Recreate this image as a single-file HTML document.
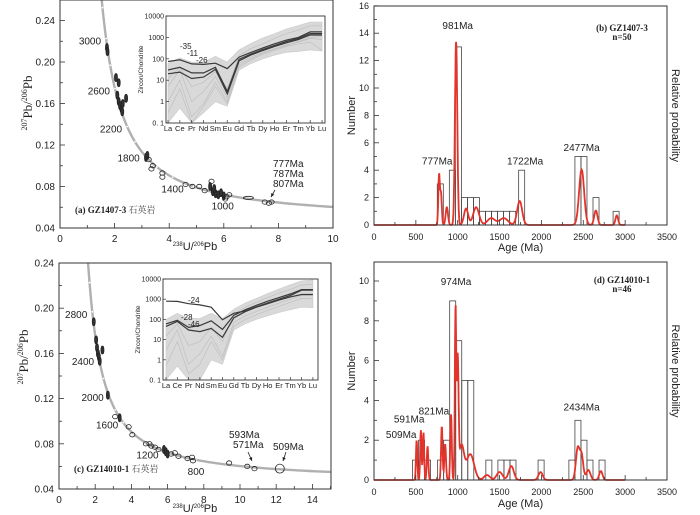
<!DOCTYPE html>
<html><head><meta charset="utf-8"><style>
html,body{margin:0;padding:0;background:#fff;}
svg{display:block;font-family:"Liberation Sans",Arial,sans-serif;}
.serif{font-family:"Liberation Serif","Noto Serif CJK SC",serif;}
</style></head><body>
<svg id="fig" width="700" height="515" viewBox="0 0 700 515" xmlns="http://www.w3.org/2000/svg">
<defs>
<clipPath id="clipA"><rect x="60" y="0" width="273" height="228"/></clipPath>
<clipPath id="clipC"><rect x="59" y="263" width="272" height="226"/></clipPath>
<clipPath id="clipIA"><rect x="166" y="16" width="159" height="107"/></clipPath>
<clipPath id="clipIC"><rect x="163" y="279" width="155" height="101"/></clipPath>
</defs>
</svg>
<script>
// ---------- DATA ----------
const concordiaAgesA=[3000,2600,2200,1800,1400,1000];
const concordiaAgesC=[2800,2400,2000,1600,1200,800];
const pointsA_x=[1.72,1.74,2.05,2.15,2.10,2.15,2.20,2.25,2.30,2.42,2.28,3.15,3.20,3.25,3.40,3.35,3.75,3.75,4.60,4.85,5.10,5.30,5.55,5.50,5.60,5.70,5.80,5.65,5.90,6.00,6.10,6.20,6.05,6.90,7.50,7.65,7.75];
const pointsA_y=[0.214,0.210,0.185,0.180,0.168,0.162,0.158,0.155,0.160,0.165,0.152,0.108,0.110,0.106,0.100,0.097,0.093,0.089,0.082,0.080,0.080,0.076,0.085,0.080,0.075,0.073,0.072,0.078,0.074,0.071,0.070,0.072,0.068,0.069,0.065,0.064,0.065];
const pointsA_filled=[1,1,1,1,1,1,1,1,1,1,1,1,1,0,0,0,0,0,0,0,0,0,0,1,1,1,1,1,1,1,0,0,0,0,0,0,0];
const pointsC_x=[1.92,2.05,2.10,2.15,2.20,2.25,2.40,2.70,3.35,3.10,3.85,4.05,4.80,5.00,5.10,5.30,5.50,5.80,5.90,6.00,6.20,6.40,6.60,7.10,7.35,7.40,9.40,10.40,10.80,12.20];
const pointsC_y=[0.188,0.172,0.165,0.160,0.157,0.153,0.163,0.123,0.103,0.104,0.095,0.088,0.080,0.080,0.078,0.077,0.075,0.075,0.073,0.071,0.071,0.072,0.069,0.067,0.068,0.065,0.063,0.060,0.058,0.058];
const pointsC_filled=[1,1,1,1,1,1,1,1,1,0,0,0,0,0,0,0,0,1,1,1,0,0,0,0,0,0,0,0,0,0];

const reeElements=["La","Ce","Pr","Nd","Sm","Eu","Gd","Tb","Dy","Ho","Er","Tm","Yb","Lu"];
const reeA_high=[60,110,70,70,130,70,260,520,950,1500,2500,3600,5200,5200];
const reeA_low=[0.1,0.5,0.1,0.3,1,0.6,30,60,100,150,200,220,260,230];
const reeA_grey1=[5,30,1,3,15,1.5,60,120,200,300,450,600,900,800];
const reeA_grey2=[1,10,0.2,0.8,8,1,50,100,180,280,420,650,1000,1100];
const reeA_grey3=[12,40,5,8,25,4,140,300,500,900,1500,2200,3500,3500];
const reeA_grey4=[0.3,4,0.1,0.6,5,0.8,40,90,160,250,380,500,600,250];
const reeA_dark1=[75,90,58,55,62,35,120,200,320,500,750,1000,1800,1800];
const reeA_dark2=[30,40,22,22,40,3,95,165,270,420,640,900,1500,1500];
const reeA_dark3=[20,24,12,14,32,2.3,80,150,245,380,560,800,1300,1300];
const reeC_high=[100,200,110,110,200,110,320,650,1100,1900,3200,5200,8000,9000];
const reeC_low=[0.1,0.5,0.1,0.1,1,0.6,30,60,100,150,220,300,400,380];
const reeC_grey1=[3,30,0.6,2,15,1.5,70,150,250,400,650,1000,1500,1500];
const reeC_grey2=[0.5,8,0.2,0.6,8,1,45,100,170,280,450,700,1100,1100];
const reeC_grey3=[15,60,5,8,40,8,180,400,700,1200,2000,3000,5000,5500];
const reeC_dark1=[800,780,600,520,400,95,200,260,420,650,1000,1500,2800,2800];
const reeC_dark2=[60,90,40,50,85,32,160,300,500,800,1200,1800,3000,3000];
const reeC_dark3=[45,80,30,25,36,13,120,240,400,600,900,1300,1700,1700];

const histB_starts=[756,900,972,1044,1116,1188,1260,1332,1404,1476,1548,1620,1728,2400,2472,2616,2856];
const histB_counts=[3,4,13,2,2,2,1,1,1,1,1,1,4,5,5,2,1];
const peaksB_age=[777,800,870,981,1100,1220,1400,1550,1740,2480,2650,2900];
const peaksB_height=[3.6,2.3,1.3,13.4,1.2,1.3,0.5,0.5,1.75,4.05,1.05,0.7];
const peaksB_sigma=[9,10,14,14,25,35,45,50,30,30,20,16];
const labelsB_text=["981Ma","777Ma","1722Ma","2477Ma"];
const labelsB_age=[1000,755,1805,2480];
const labelsB_val=[14.3,4.4,4.4,5.4];

const histD_starts=[460,532,604,760,832,904,976,1048,1120,1336,1480,1552,1624,1960,2328,2400,2472,2544,2688];
const histD_counts=[1,2,1,1,2,9,7,5,5,1,1,1,1,1,1,3,2,1,1];
const peaksD_age=[509,560,591,640,810,850,920,974,1000,1045,1150,1350,1500,1640,1990,2434,2480,2560,2710];
const peaksD_height=[2.0,2.5,2.4,1.7,2.7,1.8,3.3,8.6,5.8,1.7,1.3,0.25,0.4,0.7,0.4,1.6,1.2,0.5,0.45];
const peaksD_sigma=[8,8,8,9,9,10,9,8,10,30,45,35,35,30,25,22,20,25,20];
const labelsD_text=["974Ma","821Ma","591Ma","509Ma","2434Ma"];
const labelsD_age=[980,715,420,325,2480];
const labelsD_val=[9.8,3.3,2.9,2.1,3.5];

// ---------- HELPERS ----------
const NS="http://www.w3.org/2000/svg";
const svg=document.getElementById('fig');
function mk(tag,name,attrs,parent){
  const el=document.createElementNS(NS,tag);
  
  
  for(const k in attrs) el.setAttribute(k,attrs[k]);
  (parent||svg).appendChild(el); return el;
}
function txt(name,s,x,y,size,anchor,extra,parent){
  const a=Object.assign({x:x,y:y,'font-size':size,'text-anchor':anchor||'start',fill:'#222'},extra||{});
  const t=mk('text',name,a,parent); t.textContent=s; return t;
}
function lin(d0,d1,r0,r1){return v=>r0+(v-d0)/(d1-d0)*(r1-r0);}
const L238=1.55125e-10, L235=9.8485e-10;
function conc(tMa){const t=tMa*1e6;const a=Math.exp(L238*t)-1,b=Math.exp(L235*t)-1;return [1/a,b/a/137.88];}

// ---------- CONCORDIA PANEL ----------
function concPanel(p){
  const g=mk('g',p.id+'-panel',{});
  const X=lin(0,p.xmax,p.l,p.l+p.xmax*p.xpx), Y=v=>p.b-(v-0.04)/0.04*p.ypx;
  for(let v=0;v<=p.xmax+1e-9;v+=p.xminor){
    const major=Math.abs(v/p.xmajor-Math.round(v/p.xmajor))<1e-6;
    mk('line','x-tick',{x1:X(v),x2:X(v),y1:p.b,y2:p.b-(major?5:3),stroke:'#333','stroke-width':0.8},g);
    if(major) txt('x-tick-label',String(Math.round(v)),X(v),p.xlabY,10,'middle',{},g);
  }
  for(let v=0.04;v<=0.24+1e-9;v+=0.02){
    const major=Math.round(v*100)%4===0;
    mk('line','y-tick',{x1:p.l,x2:p.l+(major?5:3),y1:Y(v),y2:Y(v),stroke:'#333','stroke-width':0.8},g);
    if(major) txt('y-tick-label',v.toFixed(2),p.l-5,Y(v)+3.5,10,'end',{},g);
  }
  let d='';for(let t=50;t<=4200;t+=10){const c=conc(t);d+=(d?'L':'M')+X(c[0]).toFixed(1)+','+Y(c[1]).toFixed(1);}
  mk('path','concordia-curve',{d:d,fill:'none',stroke:'#b0b0b0','stroke-width':2.4,'clip-path':'url(#'+p.clip+')'},g);
  for(let t=400;t<=3400;t+=200){const c=conc(t);if(X(c[0])>p.r)continue;
    mk('circle','concordia-age-marker',{cx:X(c[0]),cy:Y(c[1]),r:0.9,fill:'#fff','clip-path':'url(#'+p.clip+')'},g);}
  p.ages.forEach(a=>{const c=conc(a);const x=X(c[0]),y=Y(c[1]);
    if(a>=1600) txt('concordia-age-label',String(a),x-5,y+6,10,'end',{},g);
    else txt('concordia-age-label',String(a),x,y+15,10,'middle',{},g);});
  p.px.forEach((xv,i)=>{
    const f=p.pf[i];
    const wide=(!f && xv>6.5 && xv<7.2 && p.id==='a');
    const big=(p.id==='c' && xv>12);
    mk('ellipse','data-ellipse',{cx:X(xv),cy:Y(p.py[i]),rx:big?4.5:(wide?5:(f?1.5:2.6)),ry:big?4.5:(wide?1.6:(f?4:2.2)),
      fill:f?'#333':'none',stroke:'#222','stroke-width':0.8,'clip-path':'url(#'+p.clip+')'},g);
  });
  mk('rect','plot-frame',{x:p.l,y:p.t,width:p.r-p.l,height:p.b-p.t,fill:'none',stroke:'#333','stroke-width':1},g);
  const yt=txt('y-axis-title','',p.ytx,p.yty,13,'middle',{class:'serif',transform:'rotate(-90 '+p.ytx+' '+p.yty+')'},g);
  yt.innerHTML='<tspan font-size="8" dy="-5">207</tspan><tspan dy="5">Pb/</tspan><tspan font-size="8" dy="-5">206</tspan><tspan dy="5">Pb</tspan>';
  const xt=txt('x-axis-title','',195,p.xty,10,'middle',{},g);
  xt.innerHTML='<tspan font-size="6" dy="-4">238</tspan><tspan dy="4" font-size="11">U/</tspan><tspan font-size="6" dy="-4">206</tspan><tspan dy="4" font-size="11">Pb</tspan>';
  const st=txt('sample-label','',p.l+15,p.sly,9,'start',{class:'serif','font-weight':'bold'},g);
  st.innerHTML=p.sample+' <tspan font-weight="normal" font-size="9" fill="#444">石英岩</tspan>';
  return {g,X,Y};
}

// ---------- REE INSET ----------
function inset(p){
  const g=mk('g',p.id+'-ree-inset',{});
  mk('rect','inset-background',{x:p.l,y:p.t,width:p.r-p.l,height:p.b-p.t,fill:'#fff'},g);
  const X=i=>p.x0+i*p.step, Y=v=>p.t+(4-Math.log10(v))*p.dec;
  let d='';p.high.forEach((v,i)=>{d+=(i?'L':'M')+X(i)+','+Y(v);});
  for(let i=p.low.length-1;i>=0;i--)d+='L'+X(i)+','+Y(p.low[i]);
  mk('path','ree-envelope',{d:d+'Z',fill:'#d9d9d9',stroke:'#cacaca','stroke-width':0.6,'clip-path':'url(#'+p.clip+')'},g);
  const line=(arr,name,col,w)=>{let s='';arr.forEach((v,i)=>{s+=(i?'L':'M')+X(i).toFixed(1)+','+Y(v).toFixed(1);});
    mk('path',name,{d:s,fill:'none',stroke:col,'stroke-width':w,'clip-path':'url(#'+p.clip+')'},g);};
  p.greys.forEach(a=>line(a,'ree-grey-line','#c0c0c0',0.7));
  p.darks.forEach(a=>line(a,'ree-highlight-line','#3a3a3a',1.2));
  mk('rect','inset-frame',{x:p.l,y:p.t,width:p.r-p.l,height:p.b-p.t,fill:'none',stroke:'#333','stroke-width':0.9},g);
  [10000,1000,100,10,1,0.1].forEach(v=>{
    mk('line','inset-y-tick',{x1:p.l,x2:p.l+3,y1:Y(v),y2:Y(v),stroke:'#333','stroke-width':0.7},g);
    txt('inset-y-tick-label',v===0.1?'0. 1':String(v),p.l-2,Y(v)+2.5,7,'end',{},g);
  });
  reeElements.forEach((e,i)=>{
    mk('line','inset-x-tick',{x1:X(i),x2:X(i),y1:p.b,y2:p.b-3,stroke:'#333','stroke-width':0.7},g);
    txt('inset-x-tick-label',e,X(i),p.b+8,7.5,'middle',{},g);});
  const cx=p.l-23,cy=(p.t+p.b)/2;
  txt('inset-y-axis-title','Zircon/Chondrite',cx,cy,6.5,'middle',{transform:'rotate(-90 '+cx+' '+cy+')'},g);
  p.notes.forEach(n=>txt('ree-line-label',n[0],n[1],n[2],8,'start',{},g));
}

// ---------- HISTOGRAM PANEL ----------
function histPanel(p){
  const g=mk('g',p.id+'-panel',{});
  const X=lin(0,3500,p.l,p.r), Y=v=>p.b-v*p.ypx;
  p.starts.forEach((s,i)=>mk('rect','histogram-bar',{x:X(s),y:Y(p.counts[i]),width:X(s+72)-X(s),height:p.b-Y(p.counts[i]),fill:'none',stroke:'#444','stroke-width':0.8},g));
  let d='';for(let a=0;a<=3000;a+=4){let v=0;p.pa.forEach((c,k)=>{v+=p.ph[k]*Math.exp(-0.5*Math.pow((a-c)/p.ps[k],2));});
    d+=(d?'L':'M')+X(a).toFixed(1)+','+Y(v).toFixed(1);}
  mk('path','probability-curve',{d:d,fill:'none',stroke:'#e3342b','stroke-width':1.8},g);
  for(let v=0;v<=3500;v+=250){const major=v%500===0;
    mk('line','x-tick',{x1:X(v),x2:X(v),y1:p.b,y2:p.b-(major?5:3),stroke:'#333','stroke-width':0.8},g);
    if(major) txt('x-tick-label',String(v),X(v),p.xlabY,9,'middle',{},g);}
  for(let v=0;v<=p.ymax;v+=1){const major=v%2===0;
    mk('line','y-tick',{x1:p.l,x2:p.l+(major?5:3),y1:Y(v),y2:Y(v),stroke:'#333','stroke-width':0.8},g);
    if(major) txt('y-tick-label',String(v),p.l-5,Y(v)+3,9,'end',{},g);}
  mk('rect','plot-frame',{x:p.l,y:p.t,width:p.r-p.l,height:p.b-p.t,fill:'none',stroke:'#333','stroke-width':1},g);
  p.lt.forEach((t,i)=>txt('peak-age-label',t,X(p.la[i]),Y(p.lv[i]),10,'middle',{},g));
  txt('x-axis-title','Age (Ma)',(p.l+p.r)/2,p.xty,11,'middle',{},g);
  const cy=(p.t+p.b)/2;
  txt('y-axis-title','Number',355,cy,11,'middle',{transform:'rotate(-90 355 '+cy+')'},g);
  txt('y2-axis-title','Relative probability',672,cy,11,'middle',{transform:'rotate(90 672 '+cy+')'},g);
  txt('sample-label',p.s1,622,p.sy,9,'middle',{class:'serif','font-weight':'bold'},g);
  txt('sample-n-label',p.s2,622,p.sy+9,9,'middle',{class:'serif','font-weight':'bold'},g);
}

// ---------- BUILD ----------
concPanel({id:'a',l:60,r:333,t:0,b:228,xmax:10,xpx:27.3,ypx:41.5,xmajor:2,xminor:1,xlabY:242,clip:'clipA',
  ages:concordiaAgesA,px:pointsA_x,py:pointsA_y,pf:pointsA_filled,ytx:32,yty:103,xty:250,sly:213,sample:'(a) GZ1407-3'});
inset({id:'a',l:166,r:325,t:16,b:123,x0:168,step:11.85,dec:21.4,clip:'clipIA',high:reeA_high,low:reeA_low,
  greys:[reeA_grey1,reeA_grey2,reeA_grey3,reeA_grey4],darks:[reeA_dark1,reeA_dark2,reeA_dark3],
  notes:[['-35',180,49],['-11',187,56],['-26',196,63]]});
concPanel({id:'c',l:59,r:331,t:263,b:489,xmax:15,xpx:18.1,ypx:45.2,xmajor:2,xminor:1,xlabY:503,clip:'clipC',
  ages:concordiaAgesC,px:pointsC_x,py:pointsC_y,pf:pointsC_filled,ytx:28,yty:357,xty:512,sly:472,sample:'(c) GZ14010-1'});
inset({id:'c',l:163,r:318,t:279,b:380,x0:166,step:11.3,dec:20.2,clip:'clipIC',high:reeC_high,low:reeC_low,
  greys:[reeC_grey1,reeC_grey2,reeC_grey3],darks:[reeC_dark1,reeC_dark2,reeC_dark3],
  notes:[['-24',188,303],['-28',181,320],['-46',188,327]]});
histPanel({id:'b',l:374,r:667,t:6,b:225,ypx:13.7,ymax:16,xlabY:240,xty:251,starts:histB_starts,counts:histB_counts,
  pa:peaksB_age,ph:peaksB_height,ps:peaksB_sigma,lt:labelsB_text,la:labelsB_age,lv:labelsB_val,s1:'(b) GZ1407-3',s2:'n=50',sy:31});
histPanel({id:'d',l:374,r:667,t:262,b:480,ypx:19.9,ymax:10,xlabY:495,xty:507,starts:histD_starts,counts:histD_counts,
  pa:peaksD_age,ph:peaksD_height,ps:peaksD_sigma,lt:labelsD_text,la:labelsD_age,lv:labelsD_val,s1:'(d) GZ14010-1',s2:'n=46',sy:283});

['777Ma','787Ma','807Ma'].forEach((s,i)=>txt('young-age-label',s,273,167+i*10,10,'start'));
txt('young-age-label','593Ma',229,438,10,'start');
txt('young-age-label','571Ma',233,448,10,'start');
txt('young-age-label','509Ma',273,450,10,'start');
function arrow(x1,y1,x2,y2){
  mk('line','arrow-shaft',{x1:x1,y1:y1,x2:x2,y2:y2,stroke:'#222','stroke-width':0.8});
  const a=Math.atan2(y2-y1,x2-x1),h=4;
  mk('path','arrow-head',{d:'M'+x2+','+y2+'L'+(x2-h*Math.cos(a-0.45))+','+(y2-h*Math.sin(a-0.45))+'L'+(x2-h*Math.cos(a+0.45))+','+(y2-h*Math.sin(a+0.45))+'Z',fill:'#222'});
}
arrow(275,190,271,197);
arrow(248,452,252,461);
arrow(286,452,283,461);
</script>
</body></html>
